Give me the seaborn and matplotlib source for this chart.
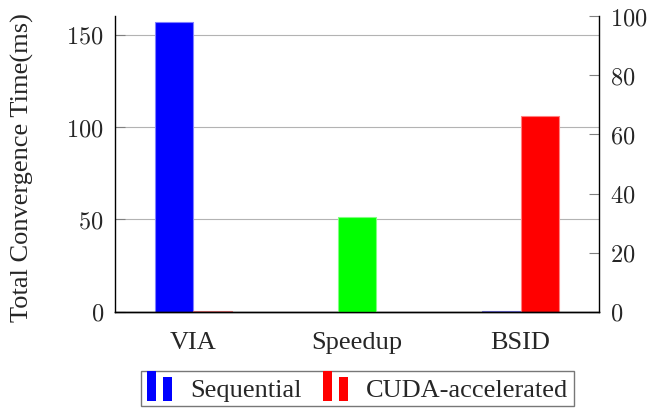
import numpy as np
import pandas as pd
import seaborn as sns
import matplotlib
matplotlib.use("Agg")
import matplotlib.pyplot as plt
from matplotlib.patches import Rectangle
from matplotlib.legend_handler import HandlerBase
from matplotlib.ticker import FixedLocator, FuncFormatter

# Data
categories = ["VIA", "Speedup", "BSID"]
sequential_ms = [157.0, np.nan, 0.5]
cuda_ms = [0.5, np.nan, 106.0]
speedup = [np.nan, 32.0, np.nan]
series_names = ["Sequential", "CUDA-accelerated"]
left_ticks = [0, 50, 100, 150]
right_ticks = [0, 20, 40, 60, 80, 100]

sns.set_theme(style="white")
plt.rcParams["font.family"] = ["Liberation Serif", "DejaVu Serif"]
plt.rcParams["mathtext.fontset"] = "cm"

df = pd.DataFrame({
    "category": categories * 2,
    "series": [series_names[0]] * 3 + [series_names[1]] * 3,
    "value": sequential_ms + cuda_ms,
})
df_speed = pd.DataFrame({"category": categories, "value": speedup})

fig = plt.figure(figsize=(6.49, 4.14), dpi=100)
ax = fig.add_axes([0.1772, 0.2440, 0.7458, 0.7149])

blue, red, green = "#0000ff", "#ff0000", "#00ff00"
sns.barplot(data=df, x="category", y="value", hue="series", order=categories,
            hue_order=series_names, palette=[blue, red], width=0.466,
            saturation=1, gap=0, legend=False, ax=ax,
            edgecolor="none", err_kws={"linewidth": 0})
for bar in ax.patches:
    fc = bar.get_facecolor()
    bar.set_edgecolor((fc[0] * 0.5 + 0.5, fc[1] * 0.5 + 0.5, fc[2] * 0.5 + 0.5))
    bar.set_linewidth(0.8)

ax2 = ax.twinx()
sns.barplot(data=df_speed, x="category", y="value", order=categories,
            color=green, saturation=1, width=0.233, ax=ax2,
            edgecolor="#80ff80", linewidth=0.8, err_kws={"linewidth": 0})

ax.set_xlim(-0.48, 2.48)
ax.set_ylim(0, 160)
ax2.set_ylim(0, 100)

cm = FuncFormatter(lambda v, p: f"${int(v)}$")
ax.yaxis.set_major_locator(FixedLocator(left_ticks))
ax.yaxis.set_major_formatter(cm)
ax2.yaxis.set_major_locator(FixedLocator(right_ticks))
ax2.yaxis.set_major_formatter(cm)

ax.grid(axis="y", color="#b3b3b3", linewidth=0.8)
ax.set_axisbelow(True)
ax2.grid(False)

for a in (ax, ax2):
    a.spines["top"].set_visible(False)
    for side in ("left", "right", "bottom"):
        a.spines[side].set_color("black")
        a.spines[side].set_linewidth(1.0)
ax2.spines["left"].set_visible(False)
ax.spines["right"].set_visible(False)

ax.tick_params(axis="y", direction="in", length=7, color="#808080", width=0.8,
               labelsize=17.5, pad=8, left=True)
ax2.tick_params(axis="y", direction="in", length=7, color="#808080", width=0.8,
                labelsize=17.5, pad=8, right=True)
ax.tick_params(axis="x", length=0, labelsize=19, pad=14)
ax.set_xlabel("")
ax2.set_ylabel("")
ax.set_ylabel("Total Convergence Time(ms)", fontsize=19)
ax.yaxis.set_label_coords(-0.168, 0.493)


class TwoBarHandler(HandlerBase):
    def __init__(self, color):
        super().__init__()
        self.color = color

    def create_artists(self, legend, orig_handle, xdescent, ydescent,
                       width, height, fontsize, trans):
        w = width * 0.36
        x0, y0 = -xdescent, -ydescent - 0.2 * height
        r1 = Rectangle((x0, y0), w, height * 1.45, facecolor=self.color,
                       edgecolor="none", transform=trans)
        r2 = Rectangle((x0 + width * 0.64, y0), w, height * 1.15,
                       facecolor=self.color, edgecolor="none", transform=trans)
        return [r1, r2]


h_seq = Rectangle((0, 0), 1, 1, color=blue)
h_cuda = Rectangle((0, 0), 1, 1, color=red)
leg = fig.legend([h_seq, h_cuda], series_names, loc="upper center",
                 bbox_to_anchor=(0.551, 0.1014), ncol=2, fontsize=19,
                 frameon=True, fancybox=False, edgecolor="#555555",
                 handlelength=0.95, handleheight=0.8, columnspacing=0.8,
                 handletextpad=0.7, borderpad=0.2, borderaxespad=0,
                 handler_map={h_seq: TwoBarHandler(blue), h_cuda: TwoBarHandler(red)})
leg.get_frame().set_linewidth(1.0)

fig.savefig("out.png", dpi=100)
